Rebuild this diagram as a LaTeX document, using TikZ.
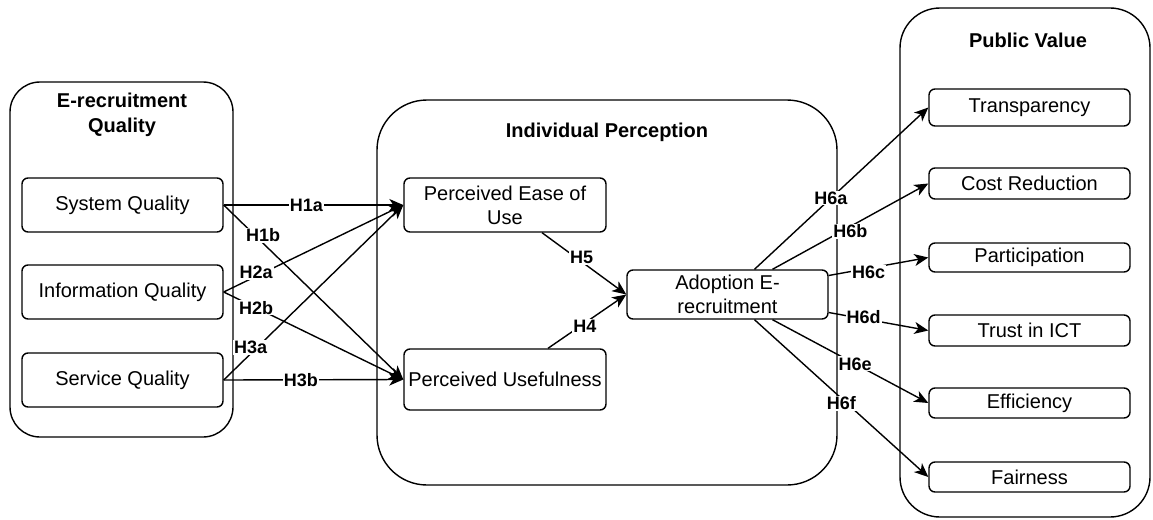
\documentclass[tikz,border=0pt]{standalone}
\usepackage{fontspec}
\setmainfont{Liberation Sans}
\usetikzlibrary{arrows.meta,calc}
\begin{document}
\begin{tikzpicture}[x=1pt,y=-1pt,
  group/.style={draw, line width=1.4pt, inner sep=0pt},
  box/.style={draw, line width=1.4pt, rounded corners=6pt, align=center, inner sep=0pt, font=\fontsize{20}{24}\selectfont},
  title/.style={align=center, font=\bfseries\fontsize{20}{25}\selectfont},
  lab/.style={fill=white, inner sep=1pt, font=\bfseries\fontsize{18}{20}\selectfont},
  arr/.style={line width=1.4pt, -{Stealth[length=14pt,width=12pt,inset=4pt]}}
]
\useasboundingbox (0,0) rectangle (1153,519);
% groups
\node[group, rounded corners=30pt, minimum width=223pt, minimum height=355pt] (g1) at (121.5,259.5) {};
\node[group, rounded corners=50pt, minimum width=460pt, minimum height=385pt] (g2) at (607,292.5) {};
\node[group, rounded corners=40pt, minimum width=250pt, minimum height=509pt] (g3) at (1025,262.5) {};
\node[title] (t1) at (122,115) {E-recruitment\\Quality};
\node[title] (t2) at (607,132) {Individual Perception};
\node[title] (t3) at (1028,40) {Public Value};
% boxes
\node[box, minimum width=201pt, minimum height=54pt] (sq) at (122.5,205) {System Quality};
\node[box, minimum width=201pt, minimum height=54pt] (iq) at (122.5,292) {Information Quality};
\node[box, minimum width=201pt, minimum height=54pt] (svq) at (122.5,380) {Service Quality};
\node[box, minimum width=202pt, minimum height=54pt] (peu) at (505,205) {Perceived Ease of\\Use};
\node[box, minimum width=202pt, minimum height=61pt] (pu) at (505,379.5) {Perceived Usefulness};
\node[box, minimum width=201pt, minimum height=49pt] (ad) at (727.5,294.5) {Adoption E-\\recruitment};
\node[box, minimum width=201pt, minimum height=37pt] (tr) at (1029.5,107.5) {Transparency};
\node[box, minimum width=201pt, minimum height=31pt] (cr) at (1029.5,183.5) {Cost Reduction};
\node[box, minimum width=201pt, minimum height=29pt] (pa) at (1029.5,257.5) {Participation};
\node[box, minimum width=201pt, minimum height=31pt] (ti) at (1029.5,330.5) {Trust in ICT};
\node[box, minimum width=201pt, minimum height=30pt] (ef) at (1029.5,403) {Efficiency};
\node[box, minimum width=201pt, minimum height=30pt] (fa) at (1029.5,477) {Fairness};
% edges left
\draw[arr] (sq.east) -- node[lab, pos=0.46] {H1a} (peu.west);
\draw[arr] (sq.east) -- node[lab, pos=0.22, yshift=8pt] {H1b} (pu.west);
\draw[arr] (iq.east) -- node[lab, pos=0.18, yshift=4pt] {H2a} (peu.west);
\draw[arr] (iq.east) -- node[lab, pos=0.18] {H2b} (pu.west);
\draw[arr] (svq.east) -- node[lab, pos=0.15, yshift=6pt] {H3a} (peu.west);
\draw[arr] (svq.east) -- node[lab, pos=0.43] {H3b} (pu.west);
% middle
\draw[arr] ($(peu.south)+(37,0)$) -- node[lab, pos=0.47, yshift=4pt] {H5} (ad.west);
\draw[arr] ($(pu.north)+(43,0)$) -- node[lab, pos=0.47, yshift=-3pt] {H4} (ad.west);
% right
\draw[arr] ($(ad.north)+(27,0)$) -- node[lab, pos=0.44] {H6a} (tr.west);
\draw[arr] ($(ad.north)+(45,0)$) -- node[lab, pos=0.5, yshift=-5pt] {H6b} (cr.west);
\draw[arr] ($(ad.east)+(0,-19)$) -- node[lab, pos=0.4, yshift=-4pt] {H6c} (pa.west);
\draw[arr] ($(ad.east)+(0,18)$) -- node[lab, pos=0.35, yshift=2pt] {H6d} (ti.west);
\draw[arr] ($(ad.south)+(45,0)$) -- node[lab, pos=0.53] {H6e} (ef.west);
\draw[arr] ($(ad.south)+(27,0)$) -- node[lab, pos=0.5, yshift=-5pt] {H6f} (fa.west);
\end{tikzpicture}
\end{document}
